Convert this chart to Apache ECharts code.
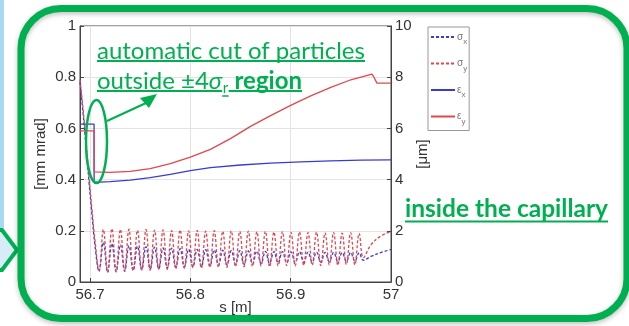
<!DOCTYPE html>
<html>
<head>
<meta charset="utf-8">
<script src="https://cdn.jsdelivr.net/npm/echarts@6/dist/echarts.min.js"></script>
<style>
html, body { margin: 0; padding: 0; background: #fff; }
#chart { width: 629px; height: 326px; }
</style>
</head>
<body>
<div id="chart"></div>
<script>
// beam size samples, s in m, sigma in um (right axis)
const sSig = [
  56.690, 56.693, 56.696, 56.699, 56.702, 56.705,
  56.7090, 56.7133, 56.7175, 56.7218, 56.7260, 56.7303, 56.7345, 56.7388, 56.7430, 56.7473,
  56.7515, 56.7558, 56.7600, 56.7643, 56.7685, 56.7728, 56.7770, 56.7813, 56.7855, 56.7898,
  56.7940, 56.7983, 56.8025, 56.8068, 56.8110, 56.8153, 56.8195, 56.8238, 56.8280, 56.8323,
  56.8365, 56.8408, 56.8450, 56.8493, 56.8535, 56.8578, 56.8620, 56.8663, 56.8705, 56.8748,
  56.8790, 56.8833, 56.8875, 56.8918, 56.8960, 56.9003, 56.9045, 56.9088, 56.9130, 56.9173,
  56.9215, 56.9258, 56.9300, 56.9343, 56.9385, 56.9428, 56.9470, 56.9513, 56.9555, 56.9598,
  56.9640, 56.9683, 56.9725,
  56.980, 56.990, 57.000
];
const sigX = [
  7.8, 6.6, 5.3, 3.9, 2.6, 1.4,
  0.42, 1.55, 0.38, 1.50, 0.40, 1.45, 0.42, 1.42, 0.45, 1.40,
  0.47, 1.38, 0.50, 1.36, 0.52, 1.33, 0.54, 1.32, 0.56, 1.30,
  0.58, 1.28, 0.60, 1.27, 0.61, 1.26, 0.63, 1.25, 0.65, 1.24,
  0.66, 1.23, 0.68, 1.22, 0.69, 1.21, 0.70, 1.21, 0.72, 1.20,
  0.73, 1.19, 0.74, 1.19, 0.75, 1.18, 0.76, 1.18, 0.77, 1.17,
  0.78, 1.17, 0.78, 1.16, 0.79, 1.16, 0.80, 1.15, 0.80, 1.15,
  0.81, 1.14, 0.85,
  1.00, 1.15, 1.27
];
const sigY = [
  7.9, 6.8, 5.5, 4.1, 2.8, 1.6,
  0.45, 2.05, 0.40, 2.08, 0.42, 2.05, 0.45, 2.06, 0.44, 2.02,
  0.47, 2.05, 0.46, 2.03, 0.50, 2.04, 0.49, 2.01, 0.52, 2.03,
  0.53, 2.00, 0.55, 2.02, 0.54, 1.99, 0.57, 2.01, 0.58, 1.98,
  0.57, 2.00, 0.60, 1.98, 0.59, 1.99, 0.61, 1.96, 0.62, 1.98,
  0.60, 1.95, 0.63, 1.97, 0.64, 1.94, 0.62, 1.96, 0.65, 1.93,
  0.66, 1.95, 0.64, 1.92, 0.67, 1.94, 0.66, 1.91, 0.68, 1.93,
  0.67, 1.90, 0.95,
  1.45, 1.80, 1.97
];

// emittances, mm mrad (left axis)
const sEpsX = [56.690, 56.7040, 56.7041, 56.710, 56.720, 56.740, 56.760, 56.780, 56.800,
  56.820, 56.850, 56.880, 56.910, 56.940, 56.970, 57.000];
const epsX = [0.617, 0.617, 0.390, 0.390, 0.392, 0.398, 0.408, 0.420, 0.435,
  0.447, 0.457, 0.464, 0.469, 0.473, 0.476, 0.477];
const sEpsY = [56.690, 56.7040, 56.7041, 56.720, 56.740, 56.760, 56.780, 56.800, 56.820,
  56.840, 56.860, 56.880, 56.900, 56.920, 56.940, 56.960, 56.981, 56.983, 56.986, 57.000];
const epsY = [0.590, 0.590, 0.430, 0.428, 0.432, 0.443, 0.462, 0.488, 0.518,
  0.560, 0.608, 0.650, 0.690, 0.727, 0.760, 0.790, 0.812, 0.800, 0.777, 0.777];

const xTicks = [56.7, 56.8, 56.9, 57];

const zip = (xs, ys) => xs.map((x, i) => [x, ys[i]]);

const BLUE = '#3b3bd4';
const RED = '#e2474f';
const GREEN = '#00b050';
const AXIS = '#444';

// text measuring for the annotations
const ctx = document.createElement('canvas').getContext('2d');
function textW(str, font) { ctx.font = font; return ctx.measureText(str).width; }
function fitSize(str, weight, target) {
  return 100 * target / textW(str, weight + ' 100px Lato');
}

const chart = echarts.init(document.getElementById('chart'));

// annotation: two underlined lines
const fs1 = fitSize('automatic cut of particles', 'normal', 268);
const l1x = 97, l1y = 58, l2y = 88;
const f1 = 'normal ' + fs1 + 'px Lato';
const fItal = 'italic ' + fs1 + 'px Lato';
const fSub = 'normal ' + (fs1 * 0.62) + 'px Lato';
const fBold = 'bold ' + fs1 + 'px Lato';
const seg1 = 'outside \u00b14', seg2 = '\u03c3', seg3 = 'r', seg4 = ' region';
const x2 = l1x + textW(seg1, f1);
const x3 = x2 + textW(seg2, fItal);
const x4 = x3 + textW(seg3, fSub) + 1;
const x5 = x4 + textW(seg4, fBold);

const fsIn = fitSize('inside the capillary', 'bold', 203);
const fIn = 'bold ' + fsIn + 'px Lato';

function txt(text, x, base, font, size) {
  return { type: 'text', z: 100, style: { text: text, x: x, y: base - 0.3 * size, font: font, fill: GREEN, verticalAlign: 'middle' } };
}
function uline(xa, xb, y, w) {
  return { type: 'line', z: 100, shape: { x1: xa, y1: y, x2: xb, y2: y }, style: { stroke: GREEN, lineWidth: w || 2 } };
}

const graphics = [
  // light blue strip at the left edge
  { type: 'rect', z: 90, shape: { x: 0, y: 0, width: 4, height: 228 }, style: { fill: '#a9d8f2' } },
  // chevron arrow at the left
  { type: 'polygon', z: 91, shape: { points: [[-4, 230], [2, 230], [17, 250], [2, 270], [-4, 270]] },
    style: { fill: '#d7ecf8', stroke: GREEN, lineWidth: 4 } },
  // rounded frame
  { type: 'rect', z: 92, shape: { x: 21, y: 8.5, width: 606, height: 310, r: 40 },
    style: { fill: 'none', stroke: GREEN, lineWidth: 7, shadowBlur: 5, shadowColor: 'rgba(0,0,0,0.25)', shadowOffsetY: 2 } },
  txt('automatic cut of particles', l1x, l1y, f1, fs1),
  uline(l1x, l1x + 268, l1y + 3),
  txt(seg1, l1x, l2y, f1, fs1),
  txt(seg2, x2, l2y, fItal, fs1),
  txt(seg3, x3 + 0.5, l2y + 5, fSub, fs1 * 0.62),
  txt(seg4, x4, l2y, fBold, fs1),
  uline(l1x, x3, l2y + 3),
  uline(x3, x4, l2y + 8, 1.5),
  uline(x4, x5, l2y + 3),
  txt('inside the capillary', 405, 216, fIn, fsIn),
  uline(405, 608, 221.5),
  // ellipse around the cut
  { type: 'ellipse', z: 100, shape: { cx: 96.5, cy: 141.5, rx: 10.5, ry: 41.5 },
    style: { fill: 'none', stroke: GREEN, lineWidth: 2.5 } },
  // arrow to the text
  { type: 'line', z: 100, shape: { x1: 107, y1: 121, x2: 146, y2: 103 }, style: { stroke: GREEN, lineWidth: 2 } },
  { type: 'polygon', z: 100, shape: { points: [[157, 94], [140, 98], [149, 108]] }, style: { fill: GREEN } }
];

const option = {
  animation: false,
  textStyle: { fontFamily: 'Liberation Sans' },
  grid: { left: 80, right: 238, top: 26, bottom: 44, show: true, borderColor: AXIS, borderWidth: 1 },
  legend: {
    orient: 'vertical', left: 428, top: 27,
    data: ['\u03c3x', '\u03c3y', '\u03b5x', '\u03b5y'],
    itemWidth: 24, itemHeight: 10, itemGap: 12.5,
    padding: [5, 2, 5, 2],
    borderColor: '#999', borderWidth: 1,
    itemStyle: { opacity: 0 },
    formatter: name => '{g|' + name[0] + '}{s|' + name[1] + '}',
    textStyle: {
      color: '#777', padding: [0, 0, 0, -3],
      rich: {
        g: { fontSize: 10, color: '#777', lineHeight: 10, verticalAlign: 'top' },
        s: { fontSize: 8, color: '#777', lineHeight: 10, padding: [6, 0, 0, 0], verticalAlign: 'top' }
      }
    }
  },
  xAxis: {
    type: 'value', min: 56.69, max: 57,
    name: 's [m]', nameLocation: 'middle', nameGap: 18, nameMoveOverlap: false,
    nameTextStyle: { fontSize: 15, color: '#333' },
    axisLine: { lineStyle: { color: AXIS } },
    axisTick: { inside: true, length: 4, customValues: xTicks, lineStyle: { color: AXIS } },
    axisLabel: { customValues: xTicks, fontSize: 15, color: '#333', margin: 5 },
    splitLine: { show: true, lineStyle: { color: '#e3e3e3' } }
  },
  yAxis: [
    {
      type: 'value', min: 0, max: 1, interval: 0.2,
      name: '[mm mrad]', nameLocation: 'middle', nameGap: 32, nameRotate: 90, nameMoveOverlap: false,
      nameTextStyle: { fontSize: 15, color: '#333' },
      axisLine: { show: true, lineStyle: { color: AXIS } },
      axisTick: { show: true, inside: true, length: 4, lineStyle: { color: AXIS } },
      axisLabel: { fontSize: 15, color: '#333', margin: 4 },
      splitLine: { show: true, lineStyle: { color: '#e3e3e3' } }
    },
    {
      type: 'value', min: 0, max: 10, interval: 2, position: 'right',
      name: '[\u03bcm]', nameLocation: 'middle', nameGap: 24, nameRotate: 90, nameMoveOverlap: false,
      nameTextStyle: { fontSize: 15, color: '#333' },
      axisLine: { show: true, lineStyle: { color: AXIS } },
      axisTick: { show: true, inside: true, length: 4, lineStyle: { color: AXIS } },
      axisLabel: { fontSize: 15, color: '#333', margin: 4 },
      splitLine: { show: false }
    }
  ],
  series: [
    { name: '\u03c3x', type: 'line', yAxisIndex: 1, data: zip(sSig, sigX), symbol: 'none', smooth: 0.4,
      lineStyle: { color: BLUE, width: 1.3, type: [3, 2] }, itemStyle: { color: BLUE } },
    { name: '\u03c3y', type: 'line', yAxisIndex: 1, data: zip(sSig, sigY), symbol: 'none', smooth: 0.4,
      lineStyle: { color: RED, width: 1.3, type: [3, 2] }, itemStyle: { color: RED } },
    { name: '\u03b5x', type: 'line', yAxisIndex: 0, data: zip(sEpsX, epsX), symbol: 'none',
      lineStyle: { color: BLUE, width: 1.3 }, itemStyle: { color: BLUE } },
    { name: '\u03b5y', type: 'line', yAxisIndex: 0, data: zip(sEpsY, epsY), symbol: 'none',
      lineStyle: { color: RED, width: 1.3 }, itemStyle: { color: RED } }
  ],
  graphic: graphics
};

chart.setOption(option);
</script>
</body>
</html>
